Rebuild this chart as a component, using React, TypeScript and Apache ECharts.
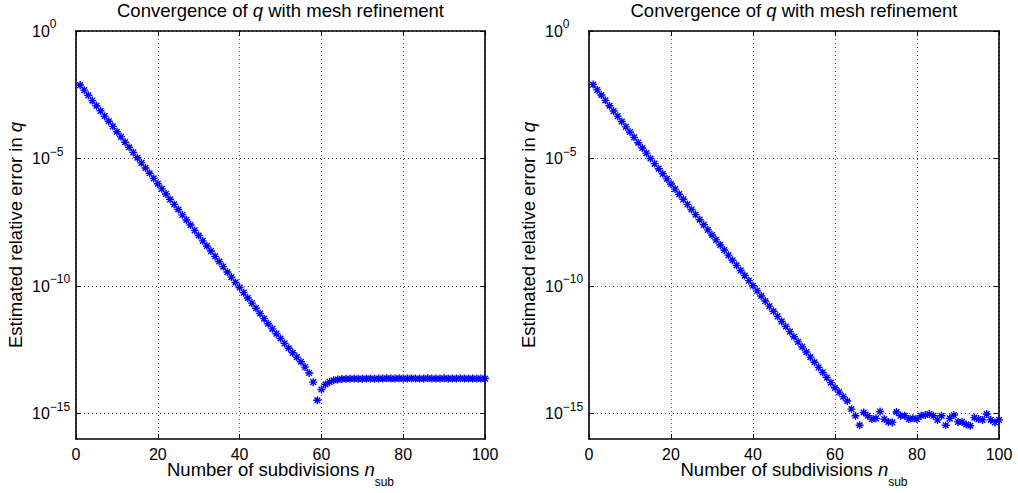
import React, { useEffect, useRef } from "react";
import * as echarts from "echarts";

// log10 of the estimated relative error in q, for n_sub = 1..100
const leftLog10Error = [
  -2.12, -2.32, -2.52, -2.73, -2.93, -3.13, -3.34, -3.54, -3.74, -3.95,
  -4.15, -4.36, -4.56, -4.76, -4.97, -5.17, -5.37, -5.58, -5.78, -5.99,
  -6.19, -6.39, -6.6, -6.8, -7.0, -7.21, -7.41, -7.61, -7.82, -8.02,
  -8.23, -8.43, -8.63, -8.84, -9.04, -9.24, -9.45, -9.65, -9.86, -10.06,
  -10.26, -10.47, -10.67, -10.87, -11.08, -11.28, -11.48, -11.68, -11.87, -12.06,
  -12.25, -12.44, -12.62, -12.79, -12.97, -13.18, -13.41, -13.77, -14.48, -14.06,
  -13.86, -13.76, -13.7, -13.67, -13.65, -13.64, -13.64, -13.63, -13.64, -13.64,
  -13.63, -13.63, -13.64, -13.63, -13.63, -13.62, -13.63, -13.63, -13.62, -13.63,
  -13.63, -13.62, -13.63, -13.63, -13.63, -13.62, -13.63, -13.63, -13.63, -13.62,
  -13.63, -13.63, -13.63, -13.62, -13.63, -13.63, -13.63, -13.63, -13.63, -13.63,
];

const rightLog10Error = [
  -2.1, -2.31, -2.51, -2.72, -2.93, -3.14, -3.34, -3.55, -3.76, -3.96,
  -4.17, -4.38, -4.59, -4.79, -5.0, -5.2, -5.4, -5.6, -5.8, -6.0,
  -6.2, -6.4, -6.6, -6.8, -7.0, -7.2, -7.4, -7.6, -7.8, -8.0,
  -8.19, -8.39, -8.59, -8.79, -8.99, -9.19, -9.39, -9.59, -9.79, -9.99,
  -10.19, -10.39, -10.59, -10.79, -10.99, -11.19, -11.39, -11.59, -11.79, -11.99,
  -12.19, -12.39, -12.59, -12.79, -12.99, -13.19, -13.39, -13.59, -13.79, -13.99,
  -14.16, -14.34, -14.51, -14.83, -15.09, -15.46, -14.96, -15.09, -15.22, -15.19,
  -14.92, -15.22, -15.33, -15.35, -14.94, -15.09, -15.09, -15.22, -15.19, -15.22,
  -15.09, -15.06, -15.02, -15.09, -15.25, -15.09, -15.46, -15.19, -15.06, -15.33,
  -15.33, -15.43, -15.48, -15.16, -15.22, -15.25, -15.02, -15.25, -15.35, -15.25,
];

const nSub = Array.from({ length: 100 }, (_, i) => i + 1);
const yTicks = [1e-15, 1e-10, 1e-5, 1];

const FONT = "'Liberation Sans', Arial, Helvetica, sans-serif";
const ASTERISK =
  "path://M5 0L5 10M0 5L10 5M1.46 1.46L8.54 8.54M8.54 1.46L1.46 8.54";

const grids = [
  { left: 76, top: 31, width: 409, height: 408 },
  { left: 589, top: 31, width: 410, height: 408 },
];

function supLabel(v: number) {
  const e = Math.round(Math.log10(v));
  const s = e === 0 ? "0" : "\u2212" + String(-e);
  return `{b|10}{s|${s}}`;
}

export default function App() {
  const ref = useRef<HTMLDivElement>(null);

  useEffect(() => {
    if (!ref.current) return;
    const chart = echarts.init(ref.current, undefined, { renderer: "svg" });

    const xAxes: any[] = [];
    const yAxes: any[] = [];
    grids.forEach((_, gi) => {
      xAxes.push({
        type: "value",
        gridIndex: gi,
        position: "bottom",
        min: 0,
        max: 100,
        interval: 20,
        axisLine: { show: true, onZero: false, lineStyle: { color: "#000", width: 1.6 } },
        axisTick: { show: true, inside: true, length: 5, lineStyle: { color: "#000" } },
        axisLabel: { show: true, margin: 7, fontSize: 16, lineHeight: 16, color: "#000", fontFamily: FONT },
        splitLine: { show: true, lineStyle: { color: "#555", type: [1, 3], width: 1 } },
      });
      xAxes.push({
        type: "value",
        gridIndex: gi,
        position: "top",
        min: 0,
        max: 100,
        interval: 20,
        axisLine: { show: true, onZero: false, lineStyle: { color: "#000", width: 1.6 } },
        axisTick: { show: true, inside: true, length: 5, lineStyle: { color: "#000" } },
        axisLabel: { show: false },
        splitLine: { show: false },
      });
      yAxes.push({
        type: "log",
        logBase: 10,
        gridIndex: gi,
        position: "left",
        min: 1e-16,
        max: 1,
        axisLine: { show: true, onZero: false, lineStyle: { color: "#000", width: 1.6 } },
        axisTick: { show: true, inside: true, length: 5, customValues: yTicks, lineStyle: { color: "#000" } },
        axisLabel: {
          show: true,
          customValues: yTicks,
          align: "left",
          margin: 44,
          color: "#000",
          formatter: (v: number) => supLabel(v),
          rich: {
            b: { fontSize: 16, lineHeight: 26, fontFamily: FONT, color: "#000" },
            s: { fontSize: 12, lineHeight: 10, verticalAlign: "top", fontFamily: FONT, color: "#000" },
          },
        },
        splitLine: { show: true, lineStyle: { color: "#555", type: [1, 3], width: 1 } },
        minorTick: { show: false },
        minorSplitLine: { show: false },
      });
      yAxes.push({
        type: "log",
        logBase: 10,
        gridIndex: gi,
        position: "right",
        min: 1e-16,
        max: 1,
        axisLine: { show: true, onZero: false, lineStyle: { color: "#000", width: 1.6 } },
        axisTick: { show: true, inside: true, length: 5, customValues: yTicks, lineStyle: { color: "#000" } },
        axisLabel: { show: false },
        splitLine: { show: false },
      });
    });

    const mkSeries = (arr: number[], idx: number) => ({
      type: "scatter",
      xAxisIndex: idx * 2,
      yAxisIndex: idx * 2,
      symbol: ASTERISK,
      symbolSize: 8,
      itemStyle: { color: "#0000ff", borderColor: "#0000ff", borderWidth: 1.4, opacity: 1 },
      emphasis: { disabled: true },
      data: nSub.map((n, i) => [n, Math.pow(10, arr[i])]),
    });

    const titleRich = {
      a: { fontSize: 18.5, fontFamily: FONT, color: "#000" },
      i: { fontSize: 18.5, fontFamily: FONT, fontStyle: "italic", color: "#000" },
    };
    const xlabRich = {
      a: { fontSize: 18.5, lineHeight: 20, verticalAlign: "top", fontFamily: FONT, color: "#000" },
      i: { fontSize: 18.5, lineHeight: 20, verticalAlign: "top", fontFamily: FONT, fontStyle: "italic", color: "#000" },
      s: { fontSize: 12, lineHeight: 12, padding: [16, 0, 0, 0], verticalAlign: "top", fontFamily: FONT, color: "#000" },
    };

    const graphics: any[] = [];
    grids.forEach((g) => {
      const cx = g.left + g.width / 2;
      const cy = g.top + g.height / 2;
      graphics.push({
        type: "text",
        x: cx,
        y: 10,
        silent: true,
        style: {
          text: "{a|Convergence of }{i|q}{a| with mesh refinement}",
          rich: titleRich,
          align: "center",
          verticalAlign: "middle",
        },
      });
      graphics.push({
        type: "text",
        x: cx,
        y: 460,
        silent: true,
        style: {
          text: "{a|Number of subdivisions }{i|n}{s|sub}",
          rich: xlabRich,
          align: "center",
          verticalAlign: "top",
        },
      });
      graphics.push({
        type: "text",
        x: g.left - 61,
        y: cy,
        rotation: Math.PI / 2,
        silent: true,
        style: {
          text: "{a|Estimated relative error in }{i|q}",
          rich: titleRich,
          align: "center",
          verticalAlign: "middle",
        },
      });
    });

    chart.setOption({
      animation: false,
      backgroundColor: "#fff",
      textStyle: { fontFamily: FONT },
      grid: grids.map((g) => ({ ...g, containLabel: false })),
      xAxis: xAxes,
      yAxis: yAxes,
      series: [mkSeries(leftLog10Error, 0), mkSeries(rightLog10Error, 1)],
      graphic: graphics,
    });

    return () => chart.dispose();
  }, []);

  return (
    <div
      ref={ref}
      style={{ position: "fixed", left: 0, top: 0, width: 1018, height: 493, background: "#fff" }}
    />
  );
}
